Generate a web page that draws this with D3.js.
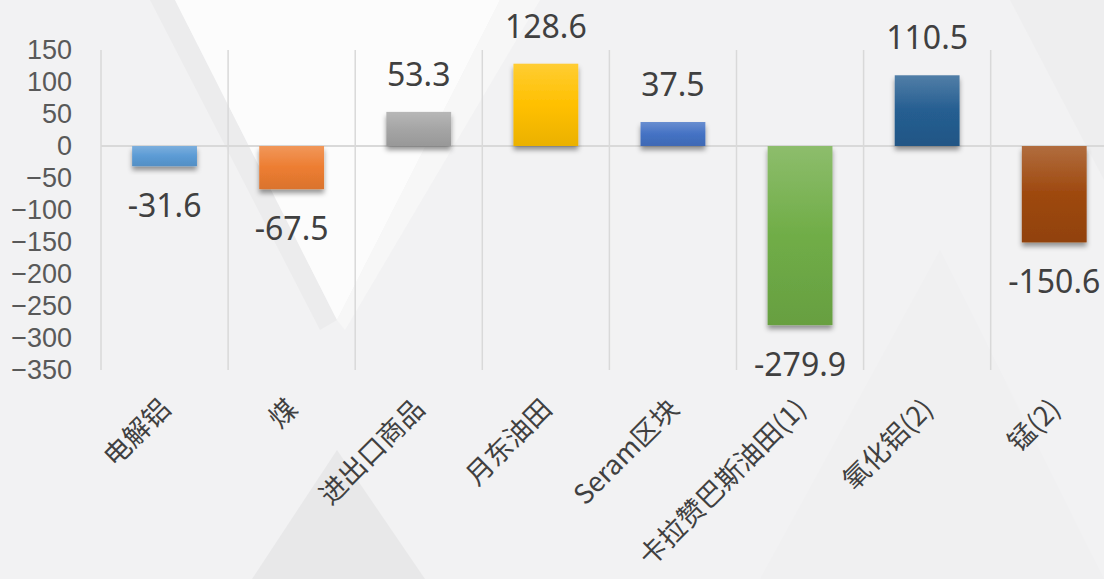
<!DOCTYPE html>
<html>
<head>
<meta charset="utf-8">
<script src="https://cdn.jsdelivr.net/npm/d3@7/dist/d3.min.js"></script>
<style>
  html, body { margin: 0; padding: 0; background: #f2f2f3; overflow: hidden; }
  svg { display: block; }
</style>
</head>
<body>
<div id="chart"></div>
<script>
const categories = ["电解铝", "煤", "进出口商品", "月东油田", "Seram区块", "卡拉赞巴斯油田(1)", "氧化铝(2)", "锰(2)"];
const values = [-31.6, -67.5, 53.3, 128.6, 37.5, -279.9, 110.5, -150.6];
const barColors = ["#5b9bd5", "#ed7d31", "#a5a5a5", "#ffc000", "#4472c4", "#70ad47", "#255e91", "#9e480e"];
const yTicks = [150, 100, 50, 0, -50, -100, -150, -200, -250, -300, -350];

const W = 1104, H = 579;
const left = 101, step = 127.1;
const svg = d3.select('#chart').append('svg')
    .attr('width', W)
    .attr('height', H);

// background decoration (soft triangles)
const bg = svg.append('g');
bg.append('rect').attr('width', W).attr('height', H).attr('fill', '#f2f2f3');
bg.append('polygon').attr('points', '150,0 175,0 337,320 320,330').attr('fill', '#ececed');
bg.append('polygon').attr('points', '175,0 500,0 337,320').attr('fill', '#fcfcfc');
bg.append('polygon').attr('points', '500,0 540,0 345,330 337,320').attr('fill', '#f7f7f7');
bg.append('polygon').attr('points', '337,450 425,579 252,579').attr('fill', '#e8e8e9');
bg.append('polygon').attr('points', '940,250 1104,579 760,579').attr('fill', '#f0f0f1');
bg.append('polygon').attr('points', '1010,0 1104,0 1104,180').attr('fill', '#eeeeef');

const x = d3.scaleBand()
    .domain(categories)
    .range([left, left + step * categories.length])
    .paddingInner(0.49)
    .paddingOuter(0.245);
const xGrid = d3.scaleBand()
    .domain(categories)
    .range([left, left + step * categories.length])
    .padding(0);
const y = d3.scaleLinear().domain([-350, 150]).range([370, 50]);

// gradients + shadow
const defs = svg.append('defs');
barColors.forEach((c, i) => {
    const g = defs.append('linearGradient')
        .attr('id', 'grad' + i)
        .attr('x1', 0).attr('y1', 0).attr('x2', 0).attr('y2', 1);
    g.append('stop').attr('offset', '0%').attr('stop-color', d3.interpolateRgb(c, '#ffffff')(0.2));
    g.append('stop').attr('offset', '50%').attr('stop-color', c);
    g.append('stop').attr('offset', '100%').attr('stop-color', d3.interpolateRgb(c, '#000000')(0.08));
});
const f = defs.append('filter').attr('id', 'shadow')
    .attr('x', '-20%').attr('y', '-20%').attr('width', '140%').attr('height', '160%');
f.append('feDropShadow')
    .attr('dx', 0).attr('dy', 4)
    .attr('stdDeviation', 2.5)
    .attr('flood-color', '#000')
    .attr('flood-opacity', 0.4);

// vertical grid lines
const gridX = categories.map(c => xGrid(c)).concat([left + step * categories.length]);
svg.append('g').selectAll('line')
    .data(gridX)
    .enter()
    .append('line')
    .attr('x1', d => d).attr('x2', d => d)
    .attr('y1', y(150)).attr('y2', y(-350))
    .attr('stroke', '#d9d9d9')
    .attr('stroke-width', 1.5);

// zero line
svg.append('line')
    .attr('x1', left).attr('x2', W)
    .attr('y1', y(0)).attr('y2', y(0))
    .attr('stroke', '#d9d9d9')
    .attr('stroke-width', 2);

// y axis labels (compact font so stacked labels don't collide)
const yAxis = svg.append('g')
    .attr('transform', 'translate(72,0)')
    .call(d3.axisLeft(y).tickValues(yTicks).tickSize(0).tickPadding(0));
yAxis.select('.domain').remove();
yAxis.selectAll('text')
    .attr('fill', '#595959')
    .attr('font-family', '"Liberation Sans", Arial, sans-serif')
    .attr('font-size', '27px');

// bars
svg.append('g').selectAll('rect')
    .data(values)
    .enter()
    .append('rect')
    .attr('x', (d, i) => x(categories[i]))
    .attr('y', d => y(Math.max(0, d)))
    .attr('width', x.bandwidth())
    .attr('height', d => Math.abs(y(d) - y(0)))
    .attr('fill', (d, i) => `url(#grad${i})`)
    .attr('filter', 'url(#shadow)');

// value labels
svg.append('g').selectAll('text')
    .data(values)
    .enter()
    .append('text')
    .text(d => d.toFixed(1))
    .attr('x', (d, i) => x(categories[i]) + x.bandwidth() / 2)
    .attr('y', d => d >= 0 ? y(d) - 26 : y(d) + 51)
    .attr('text-anchor', 'middle')
    .attr('fill', '#404040')
    .attr('font-family', '"Noto Sans", sans-serif')
    .attr('font-size', '32px');

// category labels
svg.append('g').selectAll('text')
    .data(categories)
    .enter()
    .append('text')
    .text(d => d)
    .attr('transform', d => `translate(${x(d) + x.bandwidth() / 2 + 1},404) rotate(-45)`)
    .attr('dy', '0.35em')
    .attr('text-anchor', 'end')
    .attr('fill', '#404040')
    .attr('font-family', '"Noto Sans CJK SC", "Noto Sans", sans-serif')
    .attr('font-size', '27px');
</script>
</body>
</html>
